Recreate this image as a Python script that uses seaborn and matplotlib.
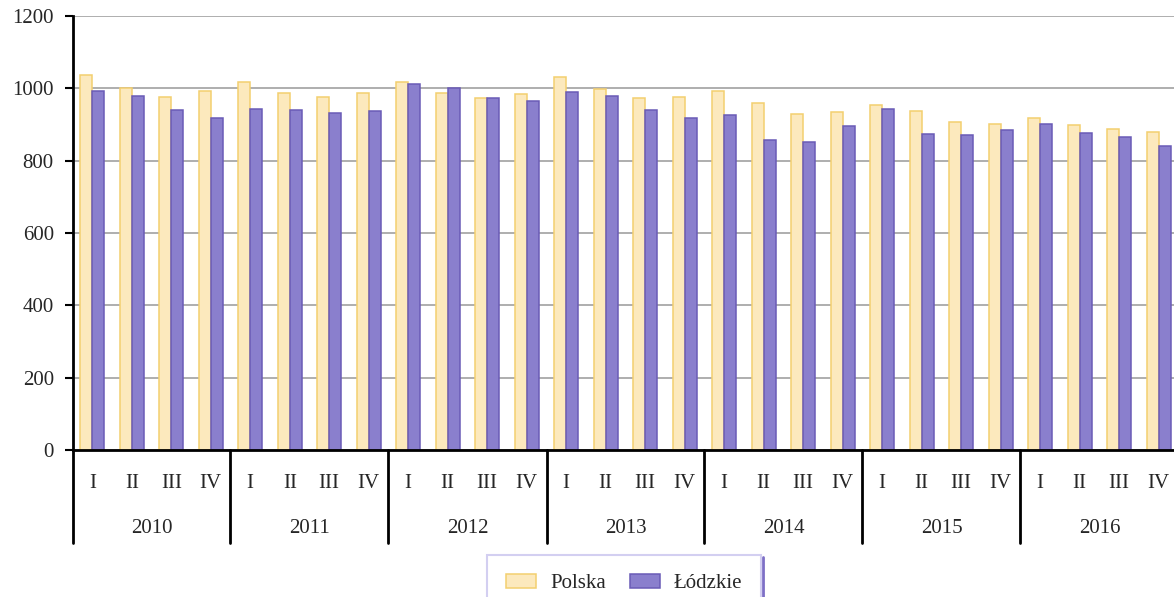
import pandas as pd
import matplotlib.pyplot as plt
import seaborn as sns
from matplotlib.patches import Patch
from matplotlib.lines import Line2D

# dane kwartalne
years = ["2010", "2011", "2012", "2013", "2014", "2015", "2016"]
quarters = ["I", "II", "III", "IV"]
series = ["Polska", "Łódzkie"]
polska = [1038, 1001, 975, 992, 1017, 988, 976, 987, 1017, 988, 974, 985,
          1030, 999, 972, 975, 994, 960, 928, 934, 955, 937, 908, 902,
          918, 898, 888, 879]
lodzkie = [992, 980, 940, 919, 943, 940, 933, 937, 1011, 1000, 974, 964,
           990, 978, 941, 917, 925, 857, 851, 896, 944, 874, 870, 885,
           902, 876, 865, 840]
yticks = [0, 200, 400, 600, 800, 1000, 1200]

fill_colors = ["#FCE9BD", "#8A7FCD"]
edge_colors = ["#F3CF6F", "#6A5BB6"]

slots = [f"{y} {q}" for y in years for q in quarters]
df = pd.DataFrame({
    "slot": slots * 2,
    "value": polska + lodzkie,
    "series": [series[0]] * len(slots) + [series[1]] * len(slots),
})

sns.set_style("white")
plt.rcParams["font.family"] = ["Liberation Serif", "DejaVu Serif"]

fig = plt.figure(figsize=(11.74, 5.97), dpi=100)
ax = fig.add_axes([72.5 / 1174, 147 / 597, 1106 / 1174, 434 / 597])

sns.barplot(data=df, x="slot", y="value", hue="series", order=slots,
            hue_order=series, palette=fill_colors, width=0.62, gap=0,
            saturation=1, legend=False, ax=ax)
for cont, ec in zip(ax.containers, edge_colors):
    for bar in cont:
        bar.set_edgecolor(ec)
        bar.set_linewidth(1.1)

ax.set_xlim(-0.5, len(slots) - 0.5)
ax.set_ylim(0, 1200)
ax.set_yticks(yticks)
ax.set_xticks([])
ax.set_xlabel("")
ax.set_ylabel("")
ax.yaxis.grid(True, color="#A8A8A8", linewidth=1.3)
ax.set_axisbelow(True)
for s in ["top", "right"]:
    ax.spines[s].set_visible(False)
for s in ["left", "bottom"]:
    ax.spines[s].set_color("black")
    ax.spines[s].set_linewidth(2)
ax.tick_params(axis="y", left=True, length=5.5, width=1.5, color="black",
               pad=8, labelsize=15)

# dwupoziomowa oś X: kwartały i lata
trans = ax.get_xaxis_transform()
for i, s in enumerate(slots):
    ax.text(i, -0.078, quarters[i % 4], transform=trans, ha="center",
            va="center", fontsize=15)
for k, y in enumerate(years):
    ax.text(4 * k + 1.5, -0.18, y, transform=trans, ha="center",
            va="center", fontsize=15)
for k in range(len(years) + 1):
    ax.plot([4 * k - 0.5] * 2, [0, -0.214], transform=trans, clip_on=False,
            color="black", linewidth=2)

handles = [Patch(facecolor=fc, edgecolor=ec, linewidth=1.1)
           for fc, ec in zip(fill_colors, edge_colors)]
leg = fig.legend(handles, series, loc="upper center",
                 bbox_to_anchor=(624 / 1174, 42 / 597), borderaxespad=0,
                 ncol=2, frameon=True, fancybox=False, edgecolor="#C9C4EE",
                 fontsize=15, handlelength=1.45, handleheight=0.67,
                 handletextpad=0.65, columnspacing=1.15, borderpad=0.9)
leg.get_frame().set_linewidth(1.5)

# ciemniejsza prawa krawędź ramki legendy
fig.canvas.draw()
bb = leg.get_frame().get_window_extent()
fig.add_artist(Line2D([bb.x1 + 2, bb.x1 + 2], [bb.y0, bb.y1 - 2],
                      transform=None, color="#7D6FC6", linewidth=2))

fig.savefig("out.png", dpi=100)
